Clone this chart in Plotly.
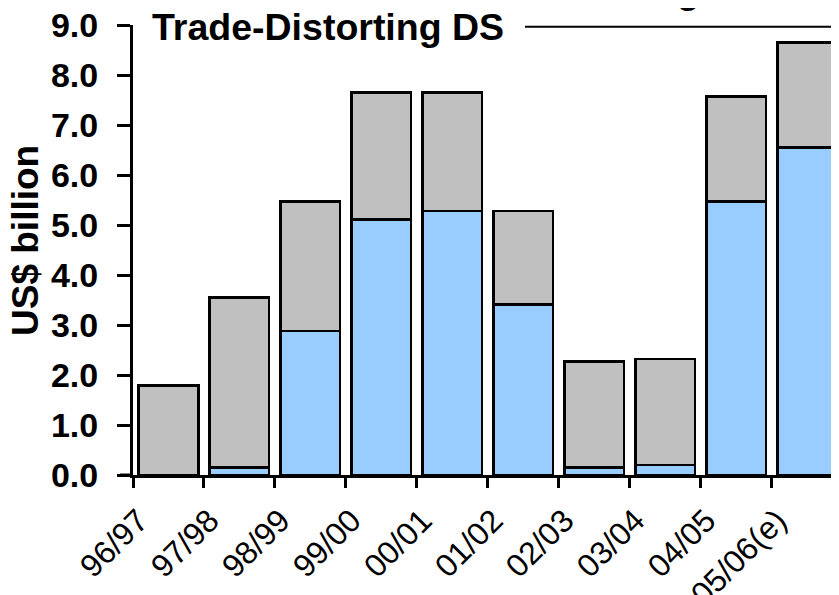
import plotly.graph_objects as go

# Data (US$ billion)
years = ["96/97", "97/98", "98/99", "99/00", "00/01", "01/02", "02/03", "03/04", "04/05", "05/06(e)"]
blue_part = [None, 0.15, 2.88, 5.11, 5.28, 3.41, 0.15, 0.20, 5.47, 6.55]
bar_total = [1.79, 3.55, 5.47, 7.65, 7.65, 5.28, 2.27, 2.32, 7.57, 8.65]
y_ticks = [0, 1, 2, 3, 4, 5, 6, 7, 8, 9]

gray_part = [t - (b or 0) for t, b in zip(bar_total, blue_part)]
xpos = [i + 0.5 for i in range(len(years))]

FONT = "Arial, 'Liberation Sans', sans-serif"
OFF = 8  # page body margin offset
W, H = 839, 595
# plot area in window pixels: x 133..839, y 25..475
L = 133 - OFF
T = 25 - OFF
R = W - (839 - OFF)
B = H - (475 - OFF)
pw = W - L - R
ph = H - T - B

fig = go.Figure()
fig.add_trace(go.Bar(x=xpos, y=blue_part, marker=dict(color="#99CCFF", line=dict(color="black", width=2.5)),
                     showlegend=False))
fig.add_trace(go.Bar(x=xpos, y=gray_part, marker=dict(color="#C0C0C0", line=dict(color="black", width=2.5)),
                     showlegend=False))

def px_x(p):  # window px -> paper
    return (p - 133) / pw

def px_y(p):
    return (475 - p) / ph

fig.update_layout(
    width=W, height=H,
    margin=dict(l=L, r=R, t=T, b=B, pad=0, autoexpand=False),
    barmode="stack", bargap=0.16,
    plot_bgcolor="white", paper_bgcolor="white",
    font=dict(family=FONT, color="black"),
    xaxis=dict(
        range=[0, 9.95], showline=True, linewidth=3, linecolor="black",
        automargin=False, ticklabeloverflow="allow",
        tickmode="array", tickvals=[i + 0.08 for i in range(len(years))], ticktext=years,
        ticks="", tickangle=-45, tickfont=dict(size=32, family=FONT),
        ticklabelstandoff=11,
        minor=dict(tickmode="array", tickvals=list(range(0, 10)), ticks="outside",
                   ticklen=10, tickwidth=2.5, tickcolor="black"),
        showgrid=False, zeroline=False,
    ),
    yaxis=dict(
        range=[0, 9], showline=True, linewidth=3, linecolor="black",
        automargin=False, ticklabeloverflow="allow",
        tickmode="array", tickvals=y_ticks, ticktext=[f"{v:.1f}" for v in y_ticks],
        ticks="outside", ticklen=13, tickwidth=2.5, tickcolor="black",
        tickfont=dict(size=34, family=FONT, weight="bold"),
        ticklabelstandoff=12,
        showgrid=False, zeroline=False,
    ),
    annotations=[
        dict(text="<b>US$ billion</b>", textangle=-90, xref="paper", yref="paper",
             x=px_x(25), y=px_y(241), xanchor="center", yanchor="middle",
             showarrow=False, font=dict(size=37, family=FONT)),
        dict(text="<b>Trade-Distorting DS</b>", xref="paper", yref="paper",
             x=px_x(150), y=px_y(27), xanchor="left", yanchor="middle",
             showarrow=False, font=dict(size=37.5, family=FONT)),
        dict(text="<b>g</b>", xref="paper", yref="paper",
             x=px_x(688), y=px_y(-9), xanchor="center", yanchor="middle",
             showarrow=False, font=dict(size=37, family=FONT)),
    ],
    shapes=[
        dict(type="line", xref="paper", yref="paper", x0=px_x(525), x1=1.0,
             y0=px_y(26.7), y1=px_y(26.7), line=dict(color="black", width=2)),
        dict(type="line", xref="paper", yref="paper", x0=px_x(120), x1=px_x(133),
             y0=0, y1=0, line=dict(color="black", width=3)),
    ],
)

fig.write_html("out.html")
